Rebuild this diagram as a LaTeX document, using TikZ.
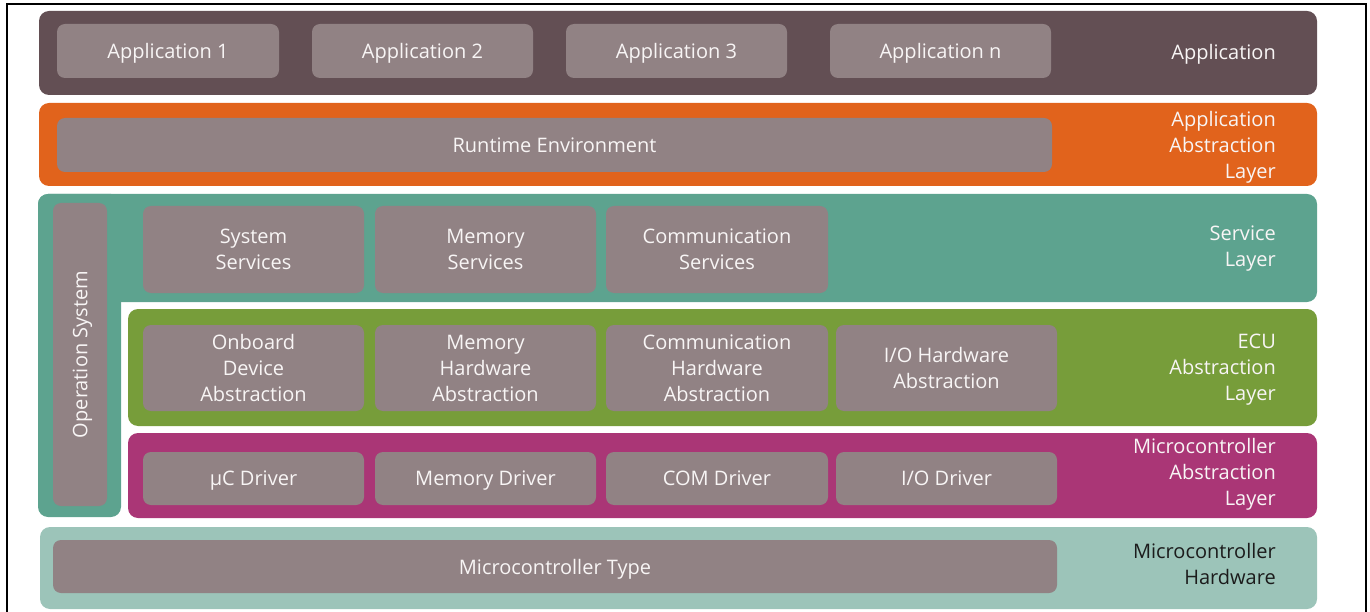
\documentclass[tikz,border=0pt]{standalone}
\usepackage{fontspec}
\setmainfont{Open Sans}

\definecolor{appcol}{HTML}{634F54}
\definecolor{rtecol}{HTML}{E1631C}
\definecolor{servcol}{HTML}{5DA38F}
\definecolor{ecucol}{HTML}{779D3A}
\definecolor{mcalcol}{HTML}{AA3676}
\definecolor{hwcol}{HTML}{9CC4B9}
\definecolor{modgray}{HTML}{918284}
\definecolor{txtlight}{HTML}{F8F5F5}
\definecolor{txtdark}{HTML}{1C1C1C}

\tikzset{
    layer/.style={rounded corners=10pt, inner sep=0pt, outer sep=0pt},
    module/.style={fill=modgray, rounded corners=8pt, inner sep=0pt, outer sep=0pt,
        text=txtlight, align=center, text depth=-2pt, font=\fontsize{20}{26}\selectfont},
    layerlabel/.style={anchor=east, align=right, inner sep=0pt, text depth=-2pt,
        text=txtlight, font=\fontsize{20}{26}\selectfont},
}

\begin{document}
\begin{tikzpicture}[x=1pt, y=-1pt]

            \useasboundingbox (0, 0) rectangle (1370, 612);
            \draw[line width=2pt] (6.5, 612) -- (6.5, 4.5) -- (1365.5, 4.5) -- (1365.5, 612);

            \node (app) at (678, 53) [layer, fill=appcol, minimum width=1278pt, minimum height=84pt] {};
            \node (rte) at (678, 144.5) [layer, fill=rtecol, minimum width=1278pt, minimum height=83pt] {};
            \fill[servcol, rounded corners=10pt] (38, 194) rectangle (1317, 302);
            \fill[servcol, rounded corners=10pt] (38, 194) rectangle (121, 517);
            \node (ecu) at (722.5, 367.5) [layer, fill=ecucol, minimum width=1189pt, minimum height=117pt] {};
            \node (mcal) at (722.5, 475.5) [layer, fill=mcalcol, minimum width=1189pt, minimum height=85pt] {};
            \node (hw) at (678.5, 568) [layer, fill=hwcol, minimum width=1277pt, minimum height=82pt] {};

            \node (app-1) at (168, 51) [module, minimum width=222pt, minimum height=54pt] {Application 1};
            \node (app-2) at (422.5, 51) [module, minimum width=221pt, minimum height=54pt] {Application 2};
            \node (app-3) at (676.5, 51) [module, minimum width=221pt, minimum height=54pt] {Application 3};
            \node (app-n) at (940.5, 51) [module, minimum width=221pt, minimum height=54pt] {Application n};

            \node (rte-1) at (554.5, 145) [module, minimum width=995pt, minimum height=54pt] {Runtime Environment};

            \node (os) at (80, 354.5) [module, rotate=90, minimum width=303pt, minimum height=54pt] {Operation System};

            \node (serv-1) at (253.5, 249.5) [module, minimum width=221pt, minimum height=87pt] {System\\Services};
            \node (serv-2) at (485.5, 249.5) [module, minimum width=221pt, minimum height=87pt] {Memory\\Services};
            \node (serv-3) at (717, 249.5) [module, minimum width=222pt, minimum height=87pt] {Communication\\Services};

            \node (ecu-1) at (253.5, 368) [module, minimum width=221pt, minimum height=86pt] {Onboard\\Device\\Abstraction};
            \node (ecu-2) at (485.5, 368) [module, minimum width=221pt, minimum height=86pt] {Memory\\Hardware\\Abstraction};
            \node (ecu-3) at (717, 368) [module, minimum width=222pt, minimum height=86pt] {Communication\\Hardware\\Abstraction};
            \node (ecu-4) at (946.5, 368) [module, minimum width=221pt, minimum height=86pt] {I/O Hardware\\Abstraction};

            \node (mcal-1) at (253.5, 478.5) [module, minimum width=221pt, minimum height=53pt] {µC Driver};
            \node (mcal-2) at (485.5, 478.5) [module, minimum width=221pt, minimum height=53pt] {Memory Driver};
            \node (mcal-3) at (717, 478.5) [module, minimum width=222pt, minimum height=53pt] {COM Driver};
            \node (mcal-4) at (946.5, 478.5) [module, minimum width=221pt, minimum height=53pt] {I/O Driver};

            \node (hw-1) at (555, 566.5) [module, minimum width=1004pt, minimum height=53pt] {Microcontroller Type};

            \node (lbl-app) at (1276, 52) [layerlabel] {Application};
            \node (lbl-rte) at (1276, 145) [layerlabel] {Application\\Abstraction\\Layer};
            \node (lbl-serv) at (1276, 246) [layerlabel] {Service\\Layer};
            \node (lbl-ecu) at (1276, 367) [layerlabel] {ECU\\Abstraction\\Layer};
            \node (lbl-mcal) at (1276, 472) [layerlabel] {Microcontroller\\Abstraction\\Layer};
            \node (lbl-hw) at (1276, 564) [layerlabel, text=txtdark] {Microcontroller\\Hardware};

\end{tikzpicture}
\end{document}
